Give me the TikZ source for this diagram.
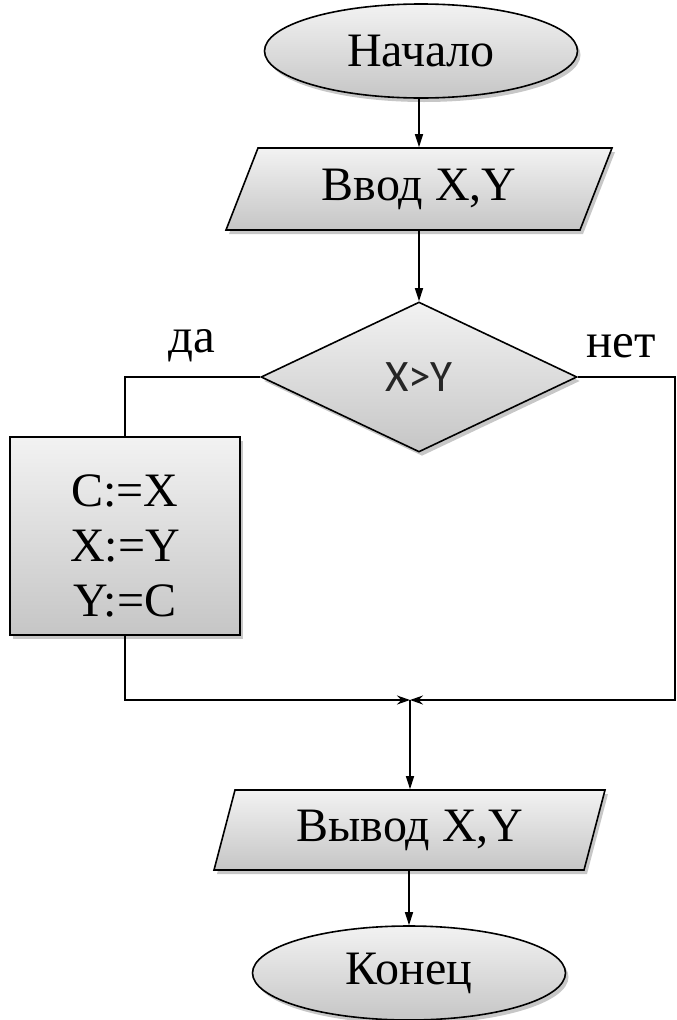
\documentclass[tikz,border=0pt]{standalone}
\usepackage{fontspec}
\setmainfont{Liberation Serif}
\newfontfamily\condfont{Carlito}
\usetikzlibrary{shapes.geometric,arrows.meta,shadows}

\begin{document}
\begin{tikzpicture}[x=1pt,y=-1pt,
  line width=1.6pt,
  filled/.style={draw=black, line width=1.6pt, top color=gray!10, bottom color=gray!45,
    drop shadow={shadow xshift=3pt, shadow yshift=-4pt, opacity=0.22, fill=black}},
  txt/.style={font=\fontsize{48}{54}\selectfont, inner sep=0pt},
  term/.style={filled, ellipse, minimum width=313, minimum height=94, inner sep=0pt, font=\fontsize{48}{54}\selectfont},
  cond/.style={filled, diamond, minimum width=316, minimum height=150, inner sep=0pt,
    font=\condfont\fontsize{45}{50}\selectfont, text=black!85},
  proc/.style={filled, rectangle, minimum width=230, minimum height=198, inner sep=0pt},
  proctext/.style={align=center, inner sep=0pt, font=\fontsize{48}{55}\selectfont},
  ioslot/.style={txt, minimum height=#1},
  arr/.style={-{Triangle[length=13pt,width=8pt]}},
  jarr/.style={-{Stealth[length=13pt,width=9pt]}},
  lbl/.style={font=\fontsize{49}{54}\selectfont, inner sep=0pt}]

\useasboundingbox (0,0) rectangle (677,1020);

% terminals and blocks
\node[term] (start) at (421,51) {Начало};

\path[filled] (258,148) -- (612,148) -- (580,230) -- (226,230) -- cycle;
\node[ioslot=82] (in) at (419,189) {Ввод X,Y};

\node[cond] (dec) at (419,377) {X>Y};

\node[proc] (swap) at (125,536) {};
\node[proctext] (swaptxt) at (125,546) {C:=X\\X:=Y\\Y:=C};

\path[filled] (235,790) -- (605,790) -- (584,870) -- (214,870) -- cycle;
\node[ioslot=80] (out) at (410,830) {Вывод X,Y};

\node[term] (fin) at (409,973) {Конец};

% branch labels
\node[lbl] (yes) at (192,346) {да};
\node[lbl] (no) at (621,346) {нет};

% helper points
\coordinate (j) at (410,700);
\coordinate (nr) at (675,377);

% connectors
\draw[arr] (start.south -| dec.north) -- (in.north -| dec.north);
\draw[arr] (in.south -| dec.north) -- (dec.north);
\draw (dec.west) -- (dec.west -| swap.north) -- (swap.north);
\draw[jarr] (swap.south) -- (swap.south |- j) -- (j);
\draw[jarr] (dec.east) -- (nr) -- (nr |- j) -- (j);
\draw[arr] (j) -- (out.north);
\draw[arr] (out.south -| fin.north) -- (fin.north);
\end{tikzpicture}
\end{document}
